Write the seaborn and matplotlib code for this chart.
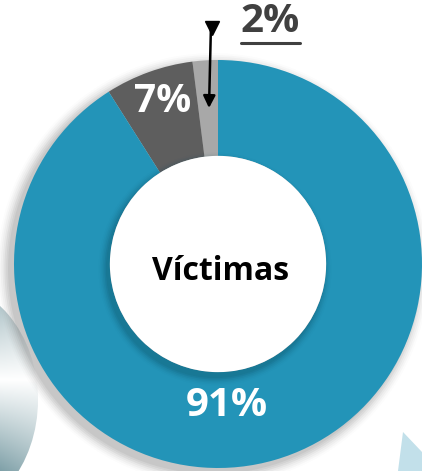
import numpy as np
import matplotlib
matplotlib.use("Agg")
import matplotlib.pyplot as plt
import matplotlib.patches as mpatches
import seaborn as sns

# data
labels = ["2%", "7%", "91%"]
shares = [2, 7, 91]
colors = ["#a8a8a8", "#5e5e5e", "#2394b8"]
center_text = "Víctimas"

sns.set_theme(style="white")
plt.rcParams["font.family"] = ["Open Sans", "DejaVu Sans"]

W, H = 422, 471
fig = plt.figure(figsize=(W / 100, H / 100), dpi=100)
ax = fig.add_axes([0, 0, 1, 1])
ax.set_xlim(0, W)
ax.set_ylim(0, H)
ax.set_aspect("equal")
ax.axis("off")

cx, cy, R = 218, 207, 204
hole = 0.53

# background decorations: gradient shape bottom left
deco = mpatches.Ellipse((-62, H - 400), 200, 240, lw=0, fc="none", zorder=0)
ax.add_patch(deco)
yy = np.linspace(0, 1, 200)[:, None]
xx = np.linspace(0, 1, 50)[None, :]
# 0 = top (dark teal-grey), white band around 0.55, lighter teal at the bottom
v = np.where(yy < 0.55, 1 - yy / 0.55, (yy - 0.55) / 0.45 * 0.6)
v = np.clip(v * (1.0 - 0.3 * xx), 0, 1)
top = np.array([0.50, 0.63, 0.66])
img = 1 - v[..., None] * (1 - top)
im = ax.imshow(img, extent=(0, 45, H - 305, 0), origin="upper", zorder=0, aspect="auto")
im.set_clip_path(deco)
ax.add_patch(mpatches.Polygon([(398, 0), (403, H - 432), (422, H - 452), (422, 0)],
                              closed=True, color="#c2e0ea", lw=0, zorder=0))

# soft shadow round the ring
for i, a in enumerate(np.linspace(0.10, 0.02, 7)):
    ax.add_patch(mpatches.Circle((cx - 5, cy - 5), R + 1 + i * 1.8, color="#6a6a6a",
                                 alpha=a, lw=0, zorder=1))

ax.pie(shares, colors=colors, startangle=90, counterclock=True,
       radius=R, center=(cx, cy), frame=True,
       wedgeprops=dict(width=R * (1 - hole), linewidth=0, zorder=2))
ax.set_xlim(0, W)
ax.set_ylim(0, H)
ax.axis("off")

# inner shadow and hole
for i, a in enumerate(np.linspace(0.12, 0.02, 6)):
    ax.add_patch(mpatches.Circle((cx - 3, cy - 5), R * hole + 1 + i * 1.5, color="#0c4a5e",
                                 alpha=a, lw=0, zorder=3))
ax.add_patch(mpatches.Circle((cx, cy), R * hole, color="white", lw=0, zorder=4))

ax.text(cx + 3, H - 272, center_text, ha="center", va="center", fontsize=23,
        fontweight="bold", color="black", zorder=5)
ax.text(163, H - 102, labels[1], ha="center", va="center", fontsize=28,
        fontweight="bold", color="white", zorder=5)
ax.text(227, H - 405, labels[2], ha="center", va="center", fontsize=29,
        fontweight="bold", color="white", zorder=5)
ax.text(270, H - 22, labels[0], ha="center", va="center", fontsize=29,
        fontweight="bold", color="#404040", zorder=5)
ax.plot([241, 300], [H - 43, H - 43], color="#404040", lw=2.2, zorder=5)

# arrow pointing at the small slice
ax.annotate("", xy=(209, H - 108), xytext=(211, H - 24),
            arrowprops=dict(arrowstyle="-|>", color="black", lw=1.8,
                            mutation_scale=18, shrinkA=0, shrinkB=0), zorder=6)
ax.plot([212], [H - 28], marker="v", markersize=10, color="black", zorder=6)

fig.savefig("out.png", dpi=100)
